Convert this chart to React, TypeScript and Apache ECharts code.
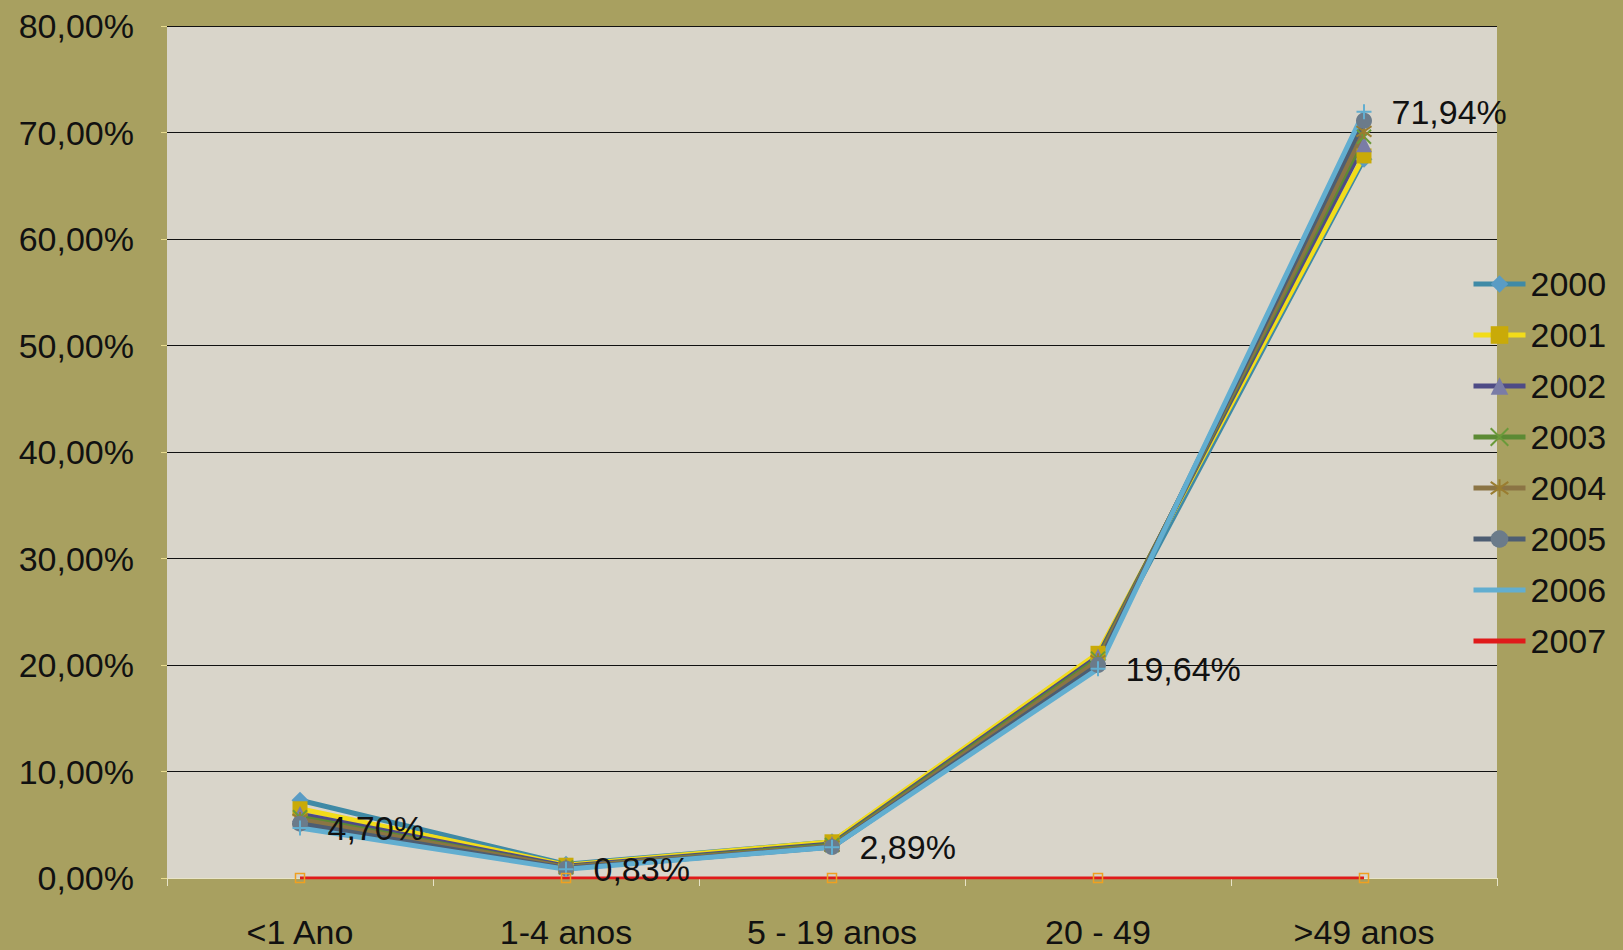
import React, { useEffect, useRef } from "react";
import * as echarts from "echarts";

const categories = ["<1 Ano", "1-4 anos", "5 - 19 anos", "20 - 49", ">49 anos"];
const years = ["2000", "2001", "2002", "2003", "2004", "2005", "2006", "2007"];
const v2000 = [7.3, 1.3, 3.4, 20.5, 67.5];
const v2001 = [6.5, 1.2, 3.4, 21.1, 67.8];
const v2002 = [6.0, 1.1, 3.2, 20.8, 68.9];
const v2003 = [5.7, 1.0, 3.1, 20.6, 69.6];
const v2004 = [5.5, 1.0, 3.0, 20.4, 70.1];
const v2005 = [5.1, 0.9, 2.9, 20.0, 71.1];
const v2006 = [4.7, 0.83, 2.89, 19.64, 71.94];
const v2007 = [0, 0, 0, 0, 0];
const yTicks = { min: 0, max: 80, interval: 10 };

const FONT = "'Liberation Sans', Arial, sans-serif";
const FS = 34;
const fmt = (v: number) => v.toFixed(2).replace(".", ",") + "%";

const xPath = "path://M0,0L10,10M10,0L0,10";
const starPath = "path://M0,1.5L10,8.5M10,1.5L0,8.5M5,0L5,10";
const plusPath = "path://M5,0L5,10M0,5L10,5";

export default function App() {
  const ref = useRef<HTMLDivElement>(null);
  useEffect(() => {
    const chart = echarts.init(ref.current!, null, { renderer: "svg" });
    const base = (name: string, data: any, color: string, extra: any) => ({
      name,
      type: "line",
      data,
      symbolSize: 14,
      lineStyle: { color, width: 5 },
      itemStyle: { color },
      ...extra,
    });
    const series = [
      base("2000", v2000, "#3f8aa6", { symbol: "diamond", symbolSize: 17, itemStyle: { color: "#5a9cc4" } }),
      base("2001", v2001, "#f2dc1a", { symbol: "rect", symbolSize: 15, itemStyle: { color: "#c9aa08" } }),
      base("2002", v2002, "#4e4b86", { symbol: "triangle", symbolSize: 16, itemStyle: { color: "#7a7ca6" } }),
      base("2003", v2003, "#5c8a34", {
        symbol: xPath,
        symbolSize: 14,
        itemStyle: { color: "#6a9a3a", borderColor: "#6a9a3a", borderWidth: 2 },
      }),
      base("2004", v2004, "#8b7444", {
        symbol: starPath,
        symbolSize: 15,
        itemStyle: { color: "#9a7d30", borderColor: "#9a7d30", borderWidth: 2 },
      }),
      base("2005", v2005, "#4d5d72", { symbol: "circle", symbolSize: 16, itemStyle: { color: "#6b7b8a" } }),
      base(
        "2006",
        v2006.map((v) => ({ value: v, symbol: plusPath, symbolSize: 15 })),
        "#62aed0",
        {
          symbol: "none",
          itemStyle: { color: "#62aed0", borderColor: "#62aed0", borderWidth: 2 },
          label: {
            show: true,
            position: "right",
            distance: 19,
            formatter: (p: any) => fmt(p.value),
            fontSize: FS,
            fontFamily: FONT,
            color: "#111",
          },
        }
      ),
      base("2007", v2007, "#e01a1a", {
        symbol: "rect",
        symbolSize: 9,
        lineStyle: { color: "#e01a1a", width: 3 },
        itemStyle: { color: "rgba(0,0,0,0)", borderColor: "#f0a020", borderWidth: 1.5 },
      }),
    ];
    const legendData = years.map((y) =>
      y === "2006" || y === "2007" ? { name: y, itemStyle: { opacity: 0 } } : { name: y }
    );
    chart.setOption({
      animation: false,
      backgroundColor: "#a8a060",
      grid: { left: 167, right: 126, top: 26, bottom: 72, backgroundColor: "#d9d5ca", show: true, borderWidth: 0 },
      legend: {
        orient: "vertical",
        left: 1466,
        top: 262,
        data: legendData,
        itemWidth: 52,
        itemHeight: 22,
        itemGap: 17,
        lineStyle: { width: 5 },
        textStyle: { fontSize: FS, lineHeight: 34, color: "#111", fontFamily: FONT },
      },
      xAxis: {
        type: "category",
        data: categories,
        boundaryGap: true,
        axisLine: { show: true, lineStyle: { color: "#e8e4c8", width: 1 } },
        axisTick: { show: true, length: 8, lineStyle: { color: "#e8e4c8" } },
        axisLabel: { fontSize: FS, color: "#111", fontFamily: FONT, margin: 37 },
      },
      yAxis: {
        type: "value",
        min: yTicks.min,
        max: yTicks.max,
        interval: yTicks.interval,
        axisLine: { show: false },
        axisTick: { show: true, length: 6, lineStyle: { color: "#e8dc90" } },
        splitLine: { show: true, lineStyle: { color: "#111", width: 1 } },
        axisLabel: { fontSize: FS, color: "#111", fontFamily: FONT, margin: 33, formatter: fmt },
      },
      series,
    });
    return () => chart.dispose();
  }, []);
  return <div ref={ref} style={{ width: 1623, height: 950, position: "absolute", left: 0, top: 0 }} />;
}
